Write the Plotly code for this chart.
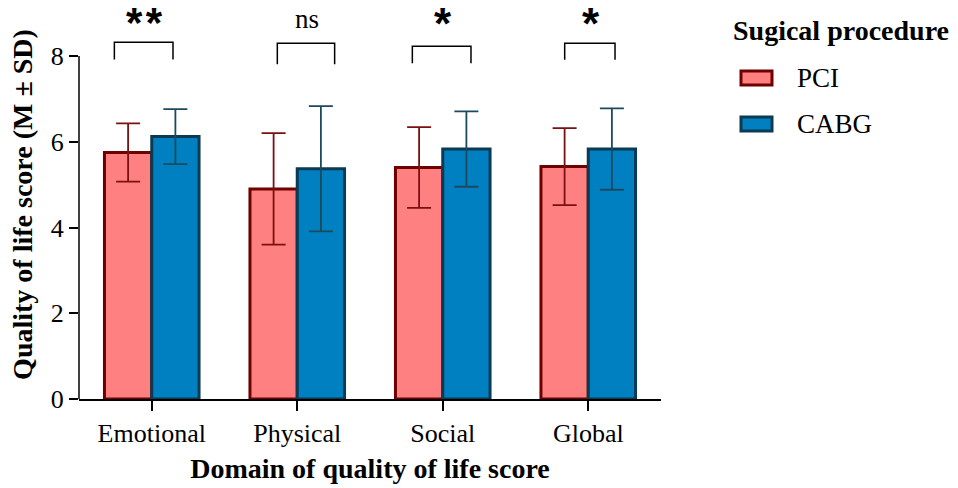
import plotly.graph_objects as go

categories = ["Emotional", "Physical", "Social", "Global"]
pci_mean = [5.75, 4.90, 5.40, 5.42]
pci_sd = [0.68, 1.30, 0.94, 0.90]
cabg_mean = [6.12, 5.37, 5.83, 5.83]
cabg_sd = [0.64, 1.46, 0.88, 0.95]
sig_labels = ["**", "ns", "*", "*"]
bracket_left = [-0.257, -0.137, -0.209, -0.162]
bracket_right = [0.146, 0.257, 0.194, 0.184]
bracket_top = [8.32, 8.30, 8.23, 8.30]
bracket_leg = [7.92, 7.81, 7.83, 7.91]
label_dx = [-0.053, 0.064, 0.0, 0.017]
label_y = [8.77, 8.87, 8.75, 8.75]
label_size = [42, 27, 44, 44]
y_ticks = [0, 2, 4, 6, 8]

FONT = "Liberation Serif"
PCI_FILL, PCI_LINE, PCI_ERR = "#FF8080", "#6E0000", "#7A1010"
CABG_FILL, CABG_LINE, CABG_ERR = "#0080C0", "#0B3A52", "#1B4A5E"

fig = go.Figure()
fig.add_trace(go.Bar(
    x=categories, y=pci_mean, name="PCI",
    marker=dict(color=PCI_FILL, line=dict(color=PCI_LINE, width=3)),
    error_y=dict(type="data", array=pci_sd, visible=True, color=PCI_ERR, thickness=1.8, width=12),
    showlegend=False,
))
fig.add_trace(go.Bar(
    x=categories, y=cabg_mean, name="CABG",
    marker=dict(color=CABG_FILL, line=dict(color=CABG_LINE, width=3)),
    error_y=dict(type="data", array=cabg_sd, visible=True, color=CABG_ERR, thickness=1.8, width=12),
    showlegend=False,
))

L, R, T, B = 79, 297, 10, 89
W, H = 958, 488
plot_w = W - L - R
plot_h = H - T - B
y_max = plot_h / 42.875

# y axis line only from 0 to 8
fig.add_shape(type="line", xref="x domain", yref="y", x0=0, x1=0, y0=0, y1=8,
              line=dict(color="black", width=1.5))

for i, lab in enumerate(sig_labels):
    xl, xr = i + bracket_left[i], i + bracket_right[i]
    fig.add_shape(type="path", xref="x", yref="y",
                  path=f"M {xl},{bracket_leg[i]} L {xl},{bracket_top[i]} L {xr},{bracket_top[i]} L {xr},{bracket_leg[i]}",
                  line=dict(color="black", width=1.5))
    is_star = "*" in lab
    text = "<b>" + "\u200a".join(lab) + "</b>" if is_star else lab
    fig.add_annotation(x=i + label_dx[i], y=label_y[i], xref="x", yref="y",
                       text=text, showarrow=False,
                       font=dict(family="Liberation Sans" if is_star else FONT,
                                 size=label_size[i], color="black"),
                       yanchor="middle")

# manual legend (pixel -> paper)
def px(xp):
    return (xp - L) / plot_w

def py(yp):
    return (H - B - yp) / plot_h

fig.add_annotation(x=px(731), y=py(31), xref="paper", yref="paper", text="<b>Sugical procedure</b>",
                   showarrow=False, xanchor="left", yanchor="middle",
                   font=dict(family=FONT, size=28, color="black"))
for name, fill, line, yc in [("PCI", PCI_FILL, PCI_LINE, 78), ("CABG", CABG_FILL, CABG_LINE, 124)]:
    fig.add_shape(type="rect", xref="paper", yref="paper", x0=px(741), x1=px(772),
                  y0=py(yc + 7), y1=py(yc - 7), fillcolor=fill, line=dict(color=line, width=3))
    fig.add_annotation(x=px(795), y=py(yc), xref="paper", yref="paper", text=name, showarrow=False,
                       xanchor="left", yanchor="middle", font=dict(family=FONT, size=27, color="black"))

fig.update_layout(
    width=W, height=H,
    margin=dict(l=L, r=R, t=T, b=B),
    plot_bgcolor="white", paper_bgcolor="white",
    barmode="group", bargap=0.35, bargroupgap=0,
    font=dict(family=FONT, size=26, color="black"),
    showlegend=False,
)
fig.update_xaxes(
    range=[-0.5, 3.5], showline=True, linecolor="black", linewidth=1.5,
    ticks="outside", ticklen=10, tickwidth=1.5, tickcolor="black",
    tickfont=dict(family=FONT, size=26),
    title=dict(text="<b>Domain of quality of life score</b>", font=dict(family=FONT, size=28), standoff=11),
    showgrid=False, zeroline=False, automargin=False,
)
fig.update_yaxes(
    range=[0, y_max], tickvals=y_ticks, showline=False,
    ticks="outside", ticklen=9, tickwidth=1.5, tickcolor="black",
    tickfont=dict(family=FONT, size=26),
    title=dict(text="<b>Quality of life score (M ± SD)</b>", font=dict(family=FONT, size=28), standoff=9),
    showgrid=False, zeroline=False, automargin=False,
)

fig.write_html("out.html", config={"displayModeBar": False},
               post_script="document.body.style.margin='0';")
